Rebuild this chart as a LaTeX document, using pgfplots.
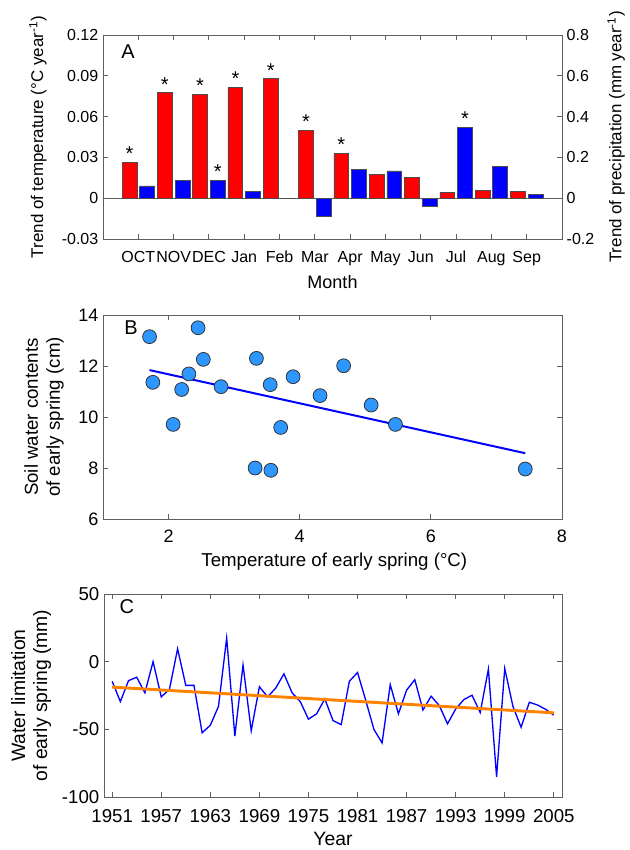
\documentclass[border=0pt]{standalone}
\usepackage{fontspec}
\setmainfont{Liberation Sans}
\usepackage{pgfplots}
\pgfplotsset{compat=1.18}

\definecolor{tred}{RGB}{255,0,0}
\definecolor{pblue}{RGB}{0,0,255}
\definecolor{dotblue}{RGB}{45,150,255}
\definecolor{trendorange}{RGB}{255,130,0}
\definecolor{spine}{RGB}{95,95,95}

\tikzset{sigstar/.style={font=\fontsize{15}{15}\selectfont, anchor=south, inner sep=1pt, text=black}}

\pgfplotsset{
  panel/.style={
    scale only axis,
    axis line style={spine, line width=0.7pt},
    every tick/.style={spine, line width=0.7pt},
    major tick length=3.5pt,
    tick align=inside,
    /pgf/number format/assume math mode=true,
    every axis y label/.style={rotate=90, anchor=center, align=center},
    every axis x label/.style={anchor=center},
  },
}

\begin{document}
\begin{tikzpicture}
\useasboundingbox (0pt,0pt) rectangle (471.75pt,-637.5pt);

% ---------- A: monthly trends ----------
\begin{axis}[panel, at={(77.25pt,-179.25pt)}, anchor=south west,
  width=344.25pt, height=153pt,
  xmin=0, xmax=13, ymin=-0.03, ymax=0.12,
  xtick={1,...,12}, xticklabels={OCT,NOV,DEC,Jan,Feb,Mar,Apr,May,Jun,Jul,Aug,Sep},
  xtick pos=both, ytick pos=left,
  ytick={-0.03,0,0.03,0.06,0.09,0.12}, yticklabels={-0.03,0,0.03,0.06,0.09,0.12},
  ticklabel style={font=\fontsize{12}{14}\selectfont},
  xticklabel style={yshift=-5.5pt},
  xlabel={Month}, ylabel={Trend of temperature (°C year\textsuperscript{-1})},
  xlabel style={font=\fontsize{13.5}{16}\selectfont, at={(axis description cs:0.5,-0.211)}},
  ylabel style={font=\fontsize{12.7}{15}\selectfont, at={(axis description cs:-0.1416,0.5)}},
]
\draw[spine, line width=0.7pt] (axis cs:0,0) -- (axis cs:13,0);
\addplot[ybar, bar width=0.42, bar shift=-0.25, fill=tred, draw=black!70, line width=0.5pt,
  point meta=explicit symbolic, nodes near coords,
  every node near coord/.append style={sigstar, xshift=-6.62pt}]
  coordinates {
  (1,0.0264) [*] (2,0.0775) [*] (3,0.0762) [*] (4,0.0813) [*] (5,0.0878) [*] (6,0.0499) [*]
  (7,0.0329) [*] (8,0.0177) [] (9,0.0154) [] (10,0.0043) [] (11,0.0058) [] (12,0.0051) []};
\node[font=\fontsize{15}{15}\selectfont] at (axis description cs:0.0545,0.92) {A};
\end{axis}

\begin{axis}[panel, at={(77.25pt,-179.25pt)}, anchor=south west,
  width=344.25pt, height=153pt,
  xmin=0, xmax=13, ymin=-0.2, ymax=0.8,
  axis x line=none, axis y line*=right,
  ytick={-0.2,0,0.2,0.4,0.6,0.8}, yticklabels={-0.2,0,0.2,0.4,0.6,0.8},
  ticklabel style={font=\fontsize{12}{14}\selectfont},
  ylabel={Trend of precipitation (mm year\textsuperscript{-1})},
  ylabel style={font=\fontsize{12.7}{15}\selectfont, at={(axis description cs:1.118,0.5)}},
]
\addplot[ybar, bar width=0.42, bar shift=0.25, fill=pblue, draw=black!70, line width=0.5pt,
  point meta=explicit symbolic, nodes near coords,
  every node near coord/.append style={sigstar, xshift=6.62pt}]
  coordinates {
  (1,0.060) [] (2,0.086) [] (3,0.087) [*] (4,0.034) [] (5,-0.002) [] (6,-0.089) []
  (7,0.143) [] (8,0.134) [] (9,-0.039) [] (10,0.346) [*] (11,0.155) [] (12,0.019) []};
\end{axis}

% ---------- B: soil water vs temperature ----------
\begin{axis}[panel, at={(77.25pt,-389.25pt)}, anchor=south west,
  width=344.25pt, height=153pt,
  xmin=1, xmax=8, ymin=6, ymax=14,
  xtick={2,4,6,8}, ytick={6,8,10,12,14},
  ticklabel style={font=\fontsize{13.5}{16}\selectfont},
  xticklabel style={yshift=-4.5pt},
  xlabel={Temperature of early spring (°C)},
  ylabel={Soil water contents\\of early spring (cm)},
  label style={font=\fontsize{14}{16.5}\selectfont},
  xlabel style={at={(axis description cs:0.504,-0.211)}},
  ylabel style={at={(axis description cs:-0.1285,0.5)}},
]
\addplot[pblue, line width=1.5pt] coordinates {(1.71,11.84) (7.44,8.58)};
\addplot[only marks, mark=*, mark size=5.2pt,
  mark options={fill=dotblue, draw=black!80, line width=0.6pt}] coordinates {
  (1.71,13.15) (1.76,11.36) (2.07,9.71) (2.20,11.08) (2.31,11.69) (2.45,13.50)
  (2.53,12.26) (2.80,11.19) (3.32,8.00) (3.34,12.30) (3.56,7.91) (3.55,11.27)
  (3.71,9.59) (3.90,11.58) (4.31,10.84) (4.67,12.01) (5.09,10.47) (5.46,9.71)
  (7.44,7.96)};
\node[font=\fontsize{15}{15}\selectfont] at (axis description cs:0.061,0.936) {B};
\end{axis}

% ---------- C: water limitation time series ----------
\begin{axis}[panel, at={(78pt,-597.75pt)}, anchor=south west,
  width=343.5pt, height=152.25pt,
  xmin=1950, xmax=2006, ymin=-100, ymax=50,
  xtick={1951,1957,1963,1969,1975,1981,1987,1993,1999,2005},
  xticklabels={1951,1957,1963,1969,1975,1981,1987,1993,1999,2005},
  ytick={-100,-50,0,50}, yticklabels={-100,-50,0,50},
  ticklabel style={font=\fontsize{14}{16}\selectfont},
  xticklabel style={yshift=-5.5pt},
  xlabel={Year},
  ylabel={Water limitation\\of early spring (mm)},
  label style={font=\fontsize{14.5}{16.5}\selectfont},
  xlabel style={at={(axis description cs:0.5,-0.207)}},
  ylabel style={at={(axis description cs:-0.159,0.5)}},
]
\addplot[pblue, line width=1pt] coordinates {
  (1951,-14.5) (1952,-29.5) (1953,-14) (1954,-11.5) (1955,-23) (1956,0)
  (1957,-26) (1958,-20.5) (1959,9.5) (1960,-17.5) (1961,-17.5) (1962,-52.5)
  (1963,-47) (1964,-33) (1965,17.5) (1966,-55) (1967,-2.5) (1968,-51)
  (1969,-18.5) (1970,-26) (1971,-19.5) (1972,-9) (1973,-23) (1974,-29.5)
  (1975,-42.5) (1976,-38.5) (1977,-27.5) (1978,-43.5) (1979,-46.5) (1980,-14.5)
  (1981,-8) (1982,-28.5) (1983,-50) (1984,-60) (1985,-17) (1986,-38.5)
  (1987,-21) (1988,-13.3) (1989,-35.7) (1990,-25.5) (1991,-32.5) (1992,-45.9)
  (1993,-35) (1994,-28) (1995,-24.8) (1996,-37.6) (1997,-5.5) (1998,-85)
  (1999,-5) (2000,-33) (2001,-48.5) (2002,-30) (2003,-32) (2004,-35.2)
  (2005,-39.5)};
\addplot[trendorange, line width=2.2pt] coordinates {(1951,-18.8) (2005,-37.8)};
\node[font=\fontsize{15}{15}\selectfont] at (axis description cs:0.050,0.936) {C};
\end{axis}
\end{tikzpicture}
\end{document}
